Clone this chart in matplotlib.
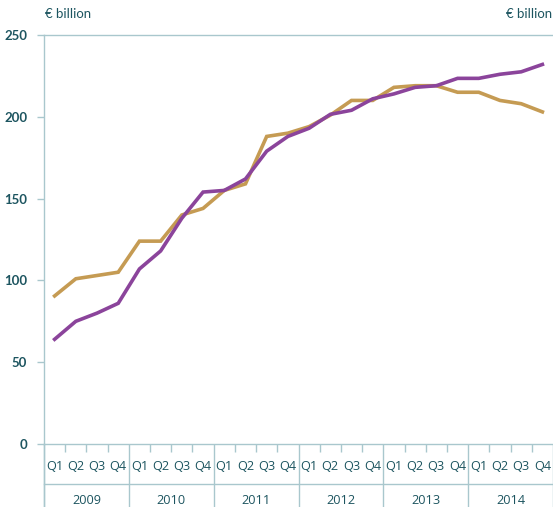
import matplotlib
matplotlib.use("Agg")
import matplotlib.pyplot as plt
import numpy as np

years = ["2009", "2010", "2011", "2012", "2013", "2014"]
quarters = ["Q1", "Q2", "Q3", "Q4"]
gold = [90.5, 101, 103, 105, 124, 124, 140, 144, 155, 159, 188, 190,
        194, 201, 210, 210, 218, 219, 219, 215, 215, 210, 208, 203]
purple = [64, 75, 80, 86, 107, 118, 138, 154, 155, 162, 179, 188,
          193, 201.5, 204, 211, 214, 218, 219, 223.5, 223.5, 226, 227.5, 232]
yticks = [0, 50, 100, 150, 200, 250]

AXC = "#a9c7cd"
TXT = "#1d5560"
GOLD = "#c59b53"
PURP = "#8b449b"

plt.rcParams['font.family'] = ['Open Sans', 'DejaVu Sans']

W, H = 553, 507
fig = plt.figure(figsize=(W/100, H/100), dpi=100)
x0, x1 = 44, 553
ytop, ybot = 35, 444
ax = fig.add_axes([x0/W, (H-ybot)/H, (x1-x0)/W, (ybot-ytop)/H])

n = len(gold)
x = np.arange(n) + 0.5
ax.plot(x, gold, color=GOLD, lw=2.6, solid_joinstyle='miter')
ax.plot(x, purple, color=PURP, lw=2.6, solid_joinstyle='miter')

ax.set_xlim(0, n)
ax.set_ylim(0, 250)
for s in ["right"]:
    ax.spines[s].set_visible(False)
for s in ["left", "top", "bottom"]:
    ax.spines[s].set_color(AXC)
    ax.spines[s].set_linewidth(1.0)

ax.set_yticks(yticks)
ax.set_yticklabels([str(v) for v in yticks], fontsize=9.5, fontweight='bold', color=TXT,
                   family=['Lato', 'DejaVu Sans'])
ax.tick_params(axis='y', length=5, color=AXC, width=1.0, pad=7)

# x ticks: year boundaries long, quarter boundaries short
ax.set_xticks(np.arange(0, n + 1, 4))
ax.set_xticklabels([])
ax.set_xticks([i for i in range(n) if i % 4 != 0], minor=True)
ax.tick_params(axis='x', which='major', length=63*0.72, color=AXC, width=1.0)
ax.tick_params(axis='x', which='minor', length=8*0.72, color=AXC, width=1.0)

tr = ax.get_xaxis_transform()
hpx = ybot - ytop
# separator line between quarters and years
ax.plot([0, n], [-40/hpx, -40/hpx], transform=tr, color=AXC, lw=1.0, clip_on=False)
# left vertical line extended
ax.plot([0, 0], [0, -63/hpx], transform=tr, color=AXC, lw=1.0, clip_on=False)

for i in range(n):
    ax.text(i + 0.5, -23/hpx, quarters[i % 4], transform=tr, ha='center', va='center',
            fontsize=9.2, color=TXT)
for j, yr in enumerate(years):
    ax.text(j*4 + 2, -56.5/hpx, yr, transform=tr, ha='center', va='center',
            fontsize=9.2, color=TXT)

fig.text(45/W, (H-14)/H, "€ billion", ha='left', va='center', fontsize=9.5, color=TXT,
         family=['Lato', 'DejaVu Sans'])
fig.text(552/W, (H-14)/H, "€ billion", ha='right', va='center', fontsize=9.5, color=TXT,
         family=['Lato', 'DejaVu Sans'])

fig.savefig("out.png", dpi=100)
